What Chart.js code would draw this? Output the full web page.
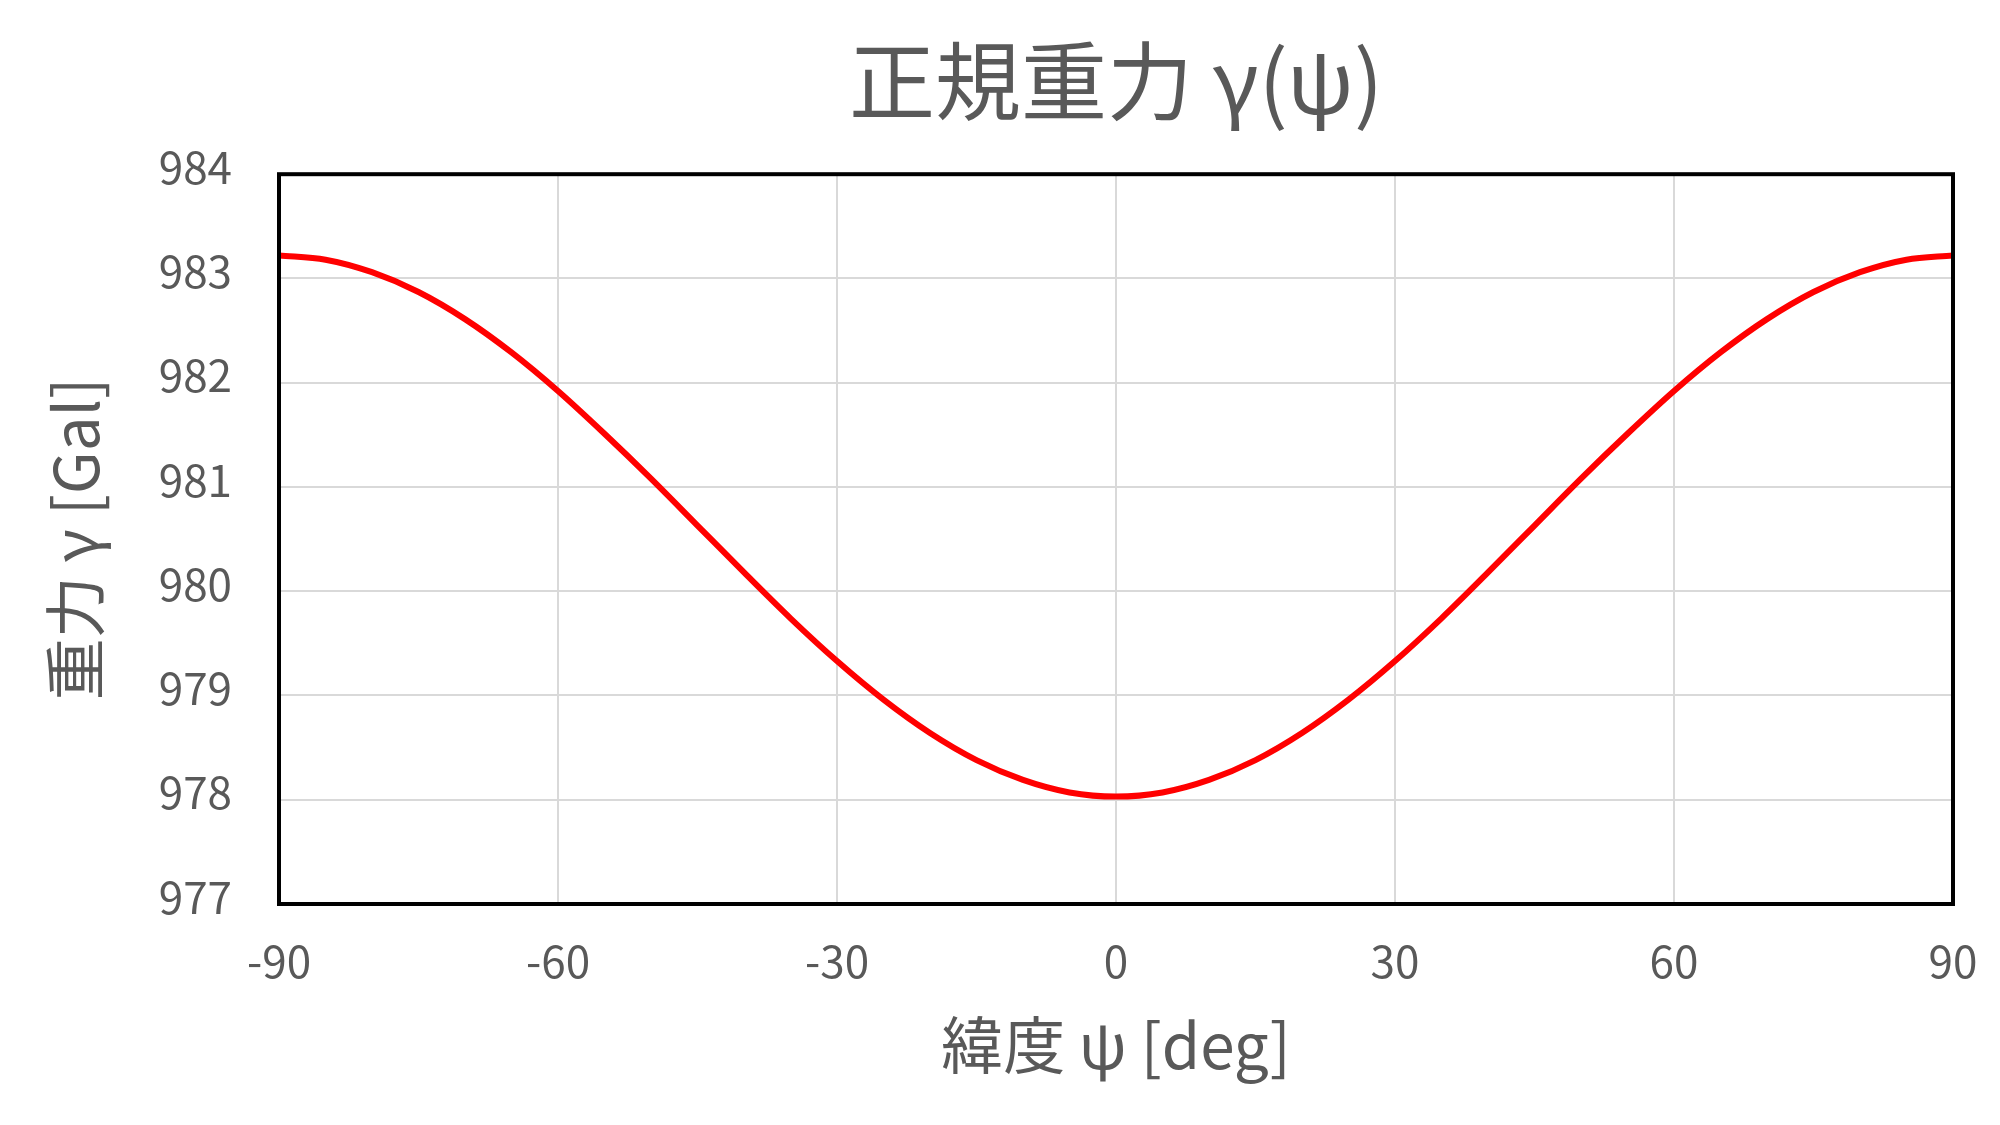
<!DOCTYPE html>
<html lang="ja">
<head>
<meta charset="utf-8">
<title>正規重力 γ(ψ)</title>
<script src="https://cdn.jsdelivr.net/npm/chart.js@4/dist/chart.umd.min.js"></script>
<style>
  html, body { margin: 0; padding: 0; background: #fff; }
  #wrap { width: 2000px; height: 1125px; }
</style>
</head>
<body>
<div id="wrap"><canvas id="gravityChart" width="2000" height="1125"></canvas></div>
<script>
// latitude [deg] and normal gravity [Gal]
const latitudes = [-90, -85, -80, -75, -70, -65, -60, -55, -50, -45, -40, -35, -30, -25, -20, -15, -10, -5,
  0, 5, 10, 15, 20, 25, 30, 35, 40, 45, 50, 55, 60, 65, 70, 75, 80, 85, 90];
const gravity = [983.22, 983.18, 983.06, 982.87, 982.61, 982.29, 981.92, 981.51, 981.08, 980.63, 980.18, 979.74, 979.33, 978.96, 978.64, 978.38, 978.19, 978.07,
  978.03, 978.07, 978.19, 978.38, 978.64, 978.96, 979.33, 979.74, 980.18, 980.63, 981.08, 981.51, 981.92, 982.29, 982.61, 982.87, 983.06, 983.18, 983.22];
const xTicks = [-90, -60, -30, 0, 30, 60, 90];
const yTicks = [977, 978, 979, 980, 981, 982, 983, 984];

const textColor = "#595959";
const fontFamily = "'Noto Sans CJK JP', 'Noto Sans', sans-serif";

// black frame around the plot area
const frame = {
  id: "frame",
  afterDatasetsDraw(chart) {
    const { ctx, chartArea: a } = chart;
    ctx.save();
    ctx.strokeStyle = "#000";
    ctx.lineWidth = 4;
    ctx.strokeRect(a.left, a.top, a.right - a.left, a.bottom - a.top);
    ctx.restore();
  }
};

new Chart(document.getElementById("gravityChart"), {
  type: "line",
  data: {
    datasets: [{
      data: latitudes.map((x, i) => ({ x, y: gravity[i] })),
      borderColor: "#ff0000",
      borderWidth: 6,
      pointRadius: 0,
      cubicInterpolationMode: "monotone",
      fill: false
    }]
  },
  options: {
    responsive: false,
    animation: false,
    layout: { padding: { top: 14, left: 20, right: 47, bottom: 0 } },
    plugins: {
      legend: { display: false },
      tooltip: { enabled: false },
      title: {
        display: true,
        text: "正規重力 γ(ψ)",
        color: textColor,
        fullSize: false,
        font: { family: fontFamily, size: 86, weight: "normal" },
        padding: { top: 16, bottom: 41 }
      }
    },
    scales: {
      x: {
        type: "linear",
        min: -90,
        max: 90,
        afterBuildTicks: scale => { scale.ticks = xTicks.map(v => ({ value: v })); },
        afterFit: scale => { scale.height = 221; },
        // invisible tick marks push the labels down without widening the side padding
        grid: { color: "#d9d9d9", lineWidth: 2, drawTicks: true, tickLength: 27, tickColor: "rgba(0,0,0,0)" },
        border: { display: false },
        ticks: {
          color: textColor,
          padding: 4,
          font: { family: fontFamily, size: 44 }
        },
        title: {
          display: true,
          text: "緯度 ψ [deg]",
          color: textColor,
          font: { family: fontFamily, size: 62 },
          padding: { top: 0, bottom: 42 }
        }
      },
      y: {
        type: "linear",
        min: 977,
        max: 984,
        afterBuildTicks: scale => { scale.ticks = yTicks.map(v => ({ value: v })); },
        afterFit: scale => { scale.width = 259; },
        grid: { color: "#d9d9d9", lineWidth: 2, drawTicks: false },
        border: { display: false },
        ticks: {
          color: textColor,
          padding: 47,
          labelOffset: -7,
          font: { family: fontFamily, size: 44 }
        },
        title: {
          display: true,
          text: "重力 γ [Gal]",
          color: textColor,
          font: { family: fontFamily, size: 62 },
          padding: { top: 18, bottom: 0 }
        }
      }
    }
  },
  plugins: [frame]
});
</script>
</body>
</html>
